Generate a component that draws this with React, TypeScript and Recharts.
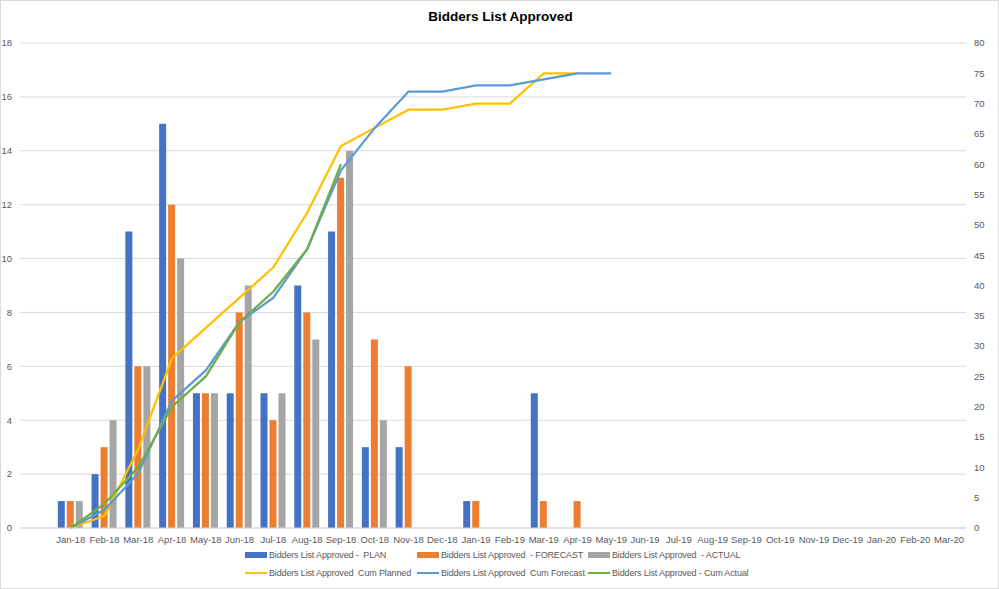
import {
  ComposedChart,
  Bar,
  Line,
  XAxis,
  YAxis,
  CartesianGrid,
  Legend,
} from 'recharts';

// first category is an empty slot, like the source sheet
const MONTHS = [
  '', 'Jan-18', 'Feb-18', 'Mar-18', 'Apr-18', 'May-18', 'Jun-18', 'Jul-18', 'Aug-18', 'Sep-18',
  'Oct-18', 'Nov-18', 'Dec-18', 'Jan-19', 'Feb-19', 'Mar-19', 'Apr-19', 'May-19', 'Jun-19',
  'Jul-19', 'Aug-19', 'Sep-19', 'Oct-19', 'Nov-19', 'Dec-19', 'Jan-20', 'Feb-20', 'Mar-20',
];

const PLAN = [null, 1, 2, 11, 15, 5, 5, 5, 9, 11, 3, 3, 0, 1, 0, 5, null, null, null, null, null, null, null, null, null, null, null, null];
const FORECAST = [null, 1, 3, 6, 12, 5, 8, 4, 8, 13, 7, 6, 0, 1, 0, 1, 1, null, null, null, null, null, null, null, null, null, null, null];
const ACTUAL = [null, 1, 4, 6, 10, 5, 9, 5, 7, 14, 4, null, null, null, null, null, null, null, null, null, null, null, null, null, null, null, null, null];

const CUM_PLANNED = [null, 0, 2, 13, 28, 33, 38, 43, 52, 63, 66, 69, 69, 70, 70, 75, 75, null, null, null, null, null, null, null, null, null, null, null];
const CUM_FORECAST = [null, 0, 3, 9, 21, 26, 34, 38, 46, 59, 66, 72, 72, 73, 73, 74, 75, 75, null, null, null, null, null, null, null, null, null, null];
const CUM_ACTUAL = [null, 0, 4, 10, 20, 25, 34, 39, 46, 60, null, null, null, null, null, null, null, null, null, null, null, null, null, null, null, null, null, null];

const LEFT_TICKS = [0, 2, 4, 6, 8, 10, 12, 14, 16, 18];
const RIGHT_TICKS = [0, 5, 10, 15, 20, 25, 30, 35, 40, 45, 50, 55, 60, 65, 70, 75, 80];

const C = {
  plan: '#4472C4',
  forecast: '#ED7D31',
  actual: '#A5A5A5',
  cumPlanned: '#FFC000',
  cumForecast: '#5B9BD5',
  cumActual: '#70AD47',
};

const data = MONTHS.map((m, i) => ({
  month: m,
  plan: PLAN[i],
  forecast: FORECAST[i],
  actual: ACTUAL[i],
  cumPlanned: CUM_PLANNED[i],
  cumForecast: CUM_FORECAST[i],
  cumActual: CUM_ACTUAL[i],
}));

const LEGEND_ITEMS = [
  { label: 'Bidders List Approved -  PLAN', color: C.plan, kind: 'bar', x: 245, row: 0 },
  { label: 'Bidders List Approved  - FORECAST', color: C.forecast, kind: 'bar', x: 417, row: 0 },
  { label: 'Bidders List Approved  - ACTUAL', color: C.actual, kind: 'bar', x: 588, row: 0 },
  { label: 'Bidders List Approved  Cum Planned', color: C.cumPlanned, kind: 'line', x: 245, row: 1 },
  { label: 'Bidders List Approved  Cum Forecast', color: C.cumForecast, kind: 'line', x: 417, row: 1 },
  { label: 'Bidders List Approved - Cum Actual', color: C.cumActual, kind: 'line', x: 588, row: 1 },
];

const FONT = '"Liberation Sans", Arial, sans-serif';
const tick = { fontSize: 9.5, fill: '#595959', fontFamily: FONT };

function LegendBox() {
  return (
    <div style={{ position: 'relative', width: 999, height: 42, fontFamily: FONT, fontSize: 9, letterSpacing: -0.15, color: '#595959' }}>
      {LEGEND_ITEMS.map((it) => (
        <div
          key={it.label}
          style={{
            position: 'absolute',
            left: it.x,
            top: it.row * 18,
            height: 18,
            display: 'flex',
            alignItems: 'center',
            whiteSpace: 'pre',
          }}
        >
          <span
            style={{
              display: 'inline-block',
              width: 22,
              height: it.kind === 'bar' ? 6 : 2.5,
              background: it.color,
              marginRight: 2,
            }}
          />
          <span>{it.label}</span>
        </div>
      ))}
    </div>
  );
}

export default function App() {
  return (
    <div
      style={{
        position: 'absolute',
        left: 0,
        top: 0,
        width: 999,
        height: 589,
        background: '#fff',
        border: '1px solid #D9D9D9',
        boxSizing: 'border-box',
      }}
    >
      <div
        style={{
          position: 'absolute',
          top: 8,
          left: 0,
          width: 999,
          textAlign: 'center',
          fontFamily: FONT,
          fontWeight: 'bold',
          fontSize: 13.5,
          color: '#000',
        }}
      >
        Bidders List Approved
      </div>
      <ComposedChart
        width={997}
        height={587}
        data={data}
        margin={{ top: 42, right: 0, bottom: 0, left: -1 }}
        barGap={2}
        style={{ position: 'absolute', left: 0, top: 0 }}
      >
        <CartesianGrid yAxisId="left" vertical={false} stroke="#D9D9D9" />
        <XAxis
          dataKey="month"
          interval={0}
          tickLine={false}
          axisLine={{ stroke: '#D9D9D9' }}
          tick={tick}
          height={18}
        />
        <YAxis
          yAxisId="left"
          domain={[0, 18]}
          ticks={LEFT_TICKS}
          width={20}
          tickLine={false}
          axisLine={false}
          tick={tick}
        />
        <YAxis
          yAxisId="right"
          orientation="right"
          domain={[0, 80]}
          ticks={RIGHT_TICKS}
          width={32}
          tickLine={false}
          axisLine={false}
          tick={{ ...tick, textAnchor: 'start' }}
        />
        <Bar yAxisId="left" dataKey="plan" fill={C.plan} barSize={7} isAnimationActive={false} />
        <Bar yAxisId="left" dataKey="forecast" fill={C.forecast} barSize={7} isAnimationActive={false} />
        <Bar yAxisId="left" dataKey="actual" fill={C.actual} barSize={7} isAnimationActive={false} />
        <Line yAxisId="right" type="linear" dataKey="cumPlanned" stroke={C.cumPlanned} strokeWidth={2.25} dot={false} isAnimationActive={false} />
        <Line yAxisId="right" type="linear" dataKey="cumForecast" stroke={C.cumForecast} strokeWidth={2.25} dot={false} isAnimationActive={false} />
        <Line yAxisId="right" type="linear" dataKey="cumActual" stroke={C.cumActual} strokeWidth={2.25} dot={false} isAnimationActive={false} />
        <Legend verticalAlign="bottom" content={() => <LegendBox />} />
      </ComposedChart>
    </div>
  );
}
